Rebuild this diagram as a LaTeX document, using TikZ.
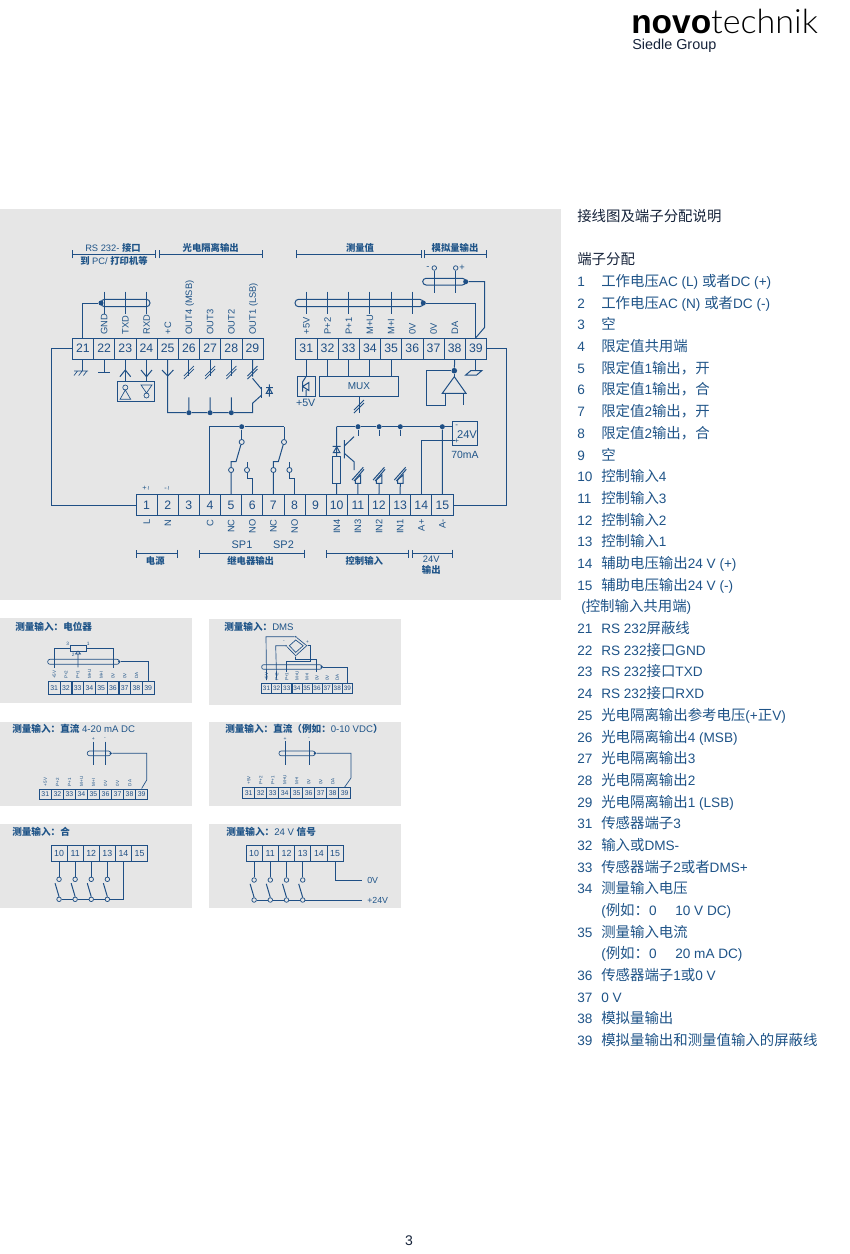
\documentclass[tikz,border=0pt]{standalone}
\usepackage{fontspec}
\setmainfont{Liberation Sans}
\newfontfamily\cjk{Noto Sans CJK SC}
\newfontfamily\cjkb[Scale=1.06]{Noto Sans CJK SC}
\newfontfamily\lightf{Lato Light}
\newcommand\Z[1]{{\cjk #1}}
\newcommand\ZB[1]{{\cjk\bfseries #1}}
\usetikzlibrary{arrows.meta}
\definecolor{wirec}{HTML}{1F4F85}
\definecolor{txtc}{HTML}{1F5488}
\definecolor{panelc}{HTML}{E6E6E6}
\definecolor{headc}{HTML}{16233A}
\newcommand\fsz[1]{\fontsize{#1pt}{#1pt}\selectfont}
\tikzset{
  wire/.style={draw=wirec,line width=.75pt},
  fine/.style={draw=wirec,line width=.5pt},
  term/.style={draw=wirec,line width=.6pt,inner sep=0pt,text=wirec,font=\fsz{9.2}},
  panel/.style={fill=panelc,draw=none},
  lab/.style={inner sep=0pt,text=txtc,font=\fsz{7}},
  rup/.style={inner sep=0pt,text=txtc,font=\fsz{7},rotate=90,anchor=west,text height=5pt,text depth=0pt},
  rdn/.style={inner sep=0pt,text=txtc,font=\fsz{7},rotate=90,anchor=east,text height=5pt,text depth=0pt},
  rti/.style={inner sep=0pt,text=txtc,font=\fsz{3.4},rotate=90,anchor=west,text height=2.5pt,text depth=0pt},
  dotn/.style={circle,fill=wirec,inner sep=0pt,minimum size=3.8pt},
  dots/.style={circle,fill=wirec,inner sep=0pt,minimum size=2pt},
  cnt/.style={circle,draw=wirec,line width=.6pt,fill=panelc,inner sep=0pt,minimum size=3.8pt},
  cnts/.style={circle,draw=wirec,line width=.55pt,fill=panelc,inner sep=0pt,minimum size=3.4pt},
  box/.style={draw=wirec,line width=.7pt,inner sep=0pt},
  brk/.style={wire,{Bar[width=6pt]}-{Bar[width=6pt]}},
  lst/.style={inner sep=0pt,anchor=base west,text=txtc,font=\fsz{10.2}},
  pics/dslash/.style={code={\draw[fine,line width=.55pt] (-5,4)--(5,-6) (-5,7)--(5,-3);}},
  pics/optin/.style={code={\draw[wire] (-2.7,0)--(2.7,0)--(2.7,-8.3)--(-2.7,-3.3)--cycle;
     \draw[wire] (-6,-3.3)--(5.3,-16) (-4,-2.3)--(6,-14);}},
}
\begin{document}
\begin{tikzpicture}[x=.75pt,y=-.75pt]
\useasboundingbox (0,0) rectangle (850,1254);
\fill[white] (0,0) rectangle (850,1254);
% panels
\fill[panel] (0,209) rectangle (561,600);
\fill[panel] (0,618) rectangle (191.5,703);
\fill[panel] (209,619) rectangle (400.5,705);
\fill[panel] (0,722) rectangle (191.5,806);
\fill[panel] (209,722) rectangle (400.5,806);
\fill[panel] (0,824) rectangle (191.5,908);
\fill[panel] (209,824) rectangle (400.5,908);
% logo
\node[inner sep=0pt,anchor=base west,text=black,font=\fsz{25.1}] (logo) at (631,33) {\textbf{novo}\resizebox{80pt}{\height}{\lightf technik}};
\node[inner sep=0pt,anchor=base west,text=headc,font=\fsz{10.8}] (group) at (632,49.5) {Siedle Group};
\node[inner sep=0pt,text=headc,font=\fsz{10.5}] (page) at (409,1241) {3};
% main terminal rows
\foreach \n [count=\i from 0] in {21,...,29}
  \node[term,minimum width=15.9pt,minimum height=15.75pt] (a\n) at ({72.3+21.2*(\i+.5)},348.5) {\n};
\foreach \n [count=\i from 0] in {31,...,39}
  \node[term,minimum width=15.9pt,minimum height=15.75pt] (a\n) at ({295.7+21.2*(\i+.5)},348.5) {\n};
\foreach \n [count=\i from 0] in {1,...,15}
  \node[term,minimum width=15.85pt,minimum height=16.2pt] (c\n) at ({136+21.13*(\i+.5)},505) {\n};
% terminal labels, top
\foreach \n/\t in {22/GND,23/TXD,24/RXD,25/+C,26/OUT4 (MSB),27/OUT3,28/OUT2,29/OUT1 (LSB),31/+5V,32/P+2,33/P+1,34/M+U,35/M+I,36/0V,37/0V,38/DA}
  \node[rup] (la\n) at ([yshift=2.2pt]a\n.north) {\t};
\foreach \n/\t in {1/L,2/N,4/C,5/NC,6/NO,7/NC,8/NO,10/IN4,11/IN3,12/IN2,13/IN1,14/A+,15/A-}
  \node[rdn] (lc\n) at ([yshift=-2.2pt]c\n.south) {\t};
\node[lab,font=\fsz{5.5}] (pm1) at (146.6,488.5) {+\,\rotatebox{90}{\textasciitilde}};
\node[lab,font=\fsz{5.5}] (pm2) at (167.7,488.5) {-\,\rotatebox{90}{\textasciitilde}};
% group brackets and titles
\draw[brk] (72.3,254.3) -- (156,254.3);
\draw[brk] (158.7,254.3) -- (262.7,254.3);
\draw[brk] (295.7,254.3) -- (421.7,254.3);
\draw[brk] (424,254.3) -- (486.7,254.3);
\node[lab] (g1) at (113,248) {RS 232- \ZB{接口}};
\node[lab] (g2) at (114,260.7) {\ZB{到} PC/ \ZB{打印机等}};
\node[lab] (g3) at (210.7,248) {\ZB{光电隔离输出}};
\node[lab] (g4) at (360,248) {\ZB{测量值}};
\node[lab] (g5) at (455,248) {\ZB{模拟量输出}};
\draw[brk] (136,553.7) -- (178.3,553.7);
\draw[brk] (199,553.7) -- (305,553.7);
\draw[brk] (326.3,553.7) -- (409.3,553.7);
\draw[brk] (412.3,553.7) -- (453.3,553.7);
\node[lab] (h1) at (155.3,560.5) {\ZB{电源}};
\node[lab] (h2) at (250.7,560.5) {\ZB{继电器输出}};
\node[lab] (h3) at (364.3,560.5) {\ZB{控制输入}};
\node[lab] (h4) at (431.3,559.5) {24V};
\node[lab] (h5) at (431.3,570) {\ZB{输出}};
\node[lab,font=\fsz{8.2}] (sp1) at (242,544.3) {SP1};
\node[lab,font=\fsz{8.2}] (sp2) at (283.5,544.3) {SP2};
% outer loops
\coordinate (l1) at (51.7,348.5);
\coordinate (r1) at (506,348.5);
\draw[wire] (a21.west) -- (l1) |- (c1.west);
\draw[wire] (a39.east) -- (r1) |- (c15.east);
% left shield
\node[dotn] (sh1) at (101,303) {};
\draw[wire,rounded corners=2.7pt] (101,299.3) rectangle (150,306.7);
\draw[wire] (a21.north) |- (sh1);
\foreach \n in {22,23,24}
  \draw[fine] (a\n.north |- 0,291.7) -- (a\n.north |- 0,314);
% below 21..24
\coordinate (gnd1) at (a21.south |- 0,371);
\draw[wire] (a21.south) -- (gnd1);
\draw[fine] (74,371)--(88,371) (74,375.5)--(77.5,371) (78.7,375.5)--(82.2,371) (83.4,375.5)--(86.9,371);
\coordinate (gnd2) at (a22.south |- 0,372.7);
\draw[wire] (a22.south) -- (gnd2);
\draw[wire] (98,372.7)--(110,372.7);
\node[box,minimum width=27.75pt,minimum height=15pt] (drv) at (135.8,391.7) {};
\draw[wire] (a23.south) -- (drv.north -| a23.south);
\draw[wire] (a24.south) -- (drv.north -| a24.south);
\draw[wire] (119.9,376.7)--(125.3,370)--(130.7,376.7);
\draw[wire] (141,370)--(146.5,376.7)--(152,370);
\draw[fine] (125.3,387.5) circle[radius=1.9pt] (125.3,390)--(120,399.3)--(130.7,399.3)--cycle;
\draw[fine] (141,385)--(152,385)--(146.5,393)--cycle (146.5,395.5) circle[radius=1.9pt];
% opto outputs
\draw[wire] (162,370)--(167.7,376)--(173.4,370);
\node[dotn] (j26) at (188.9,412.7) {};
\node[dotn] (j27) at (210.1,412.7) {};
\node[dotn] (j28) at (231.3,412.7) {};
\coordinate (e29) at (252.5,412.7);
\draw[wire] (a25.south) |- (j26) -- (j27) -- (j28) -- (e29) -- (252.5,403.3) -- (261.7,395);
\foreach \n in {26,27,28}{
  \draw[wire] (a\n.south) -- (a\n.south |- 0,376);
  \draw[wire] (j\n) -- (a\n.south |- 0,397.3);
  \pic at (a\n.south |- 0,372) {dslash};
}
\draw[wire] (a29.south) -- (252.5,376.7);
\pic at (252.5,372) {dslash};
\draw[wire] (252.5,378.3) -- (261.7,389.3);
\draw[wire] (261.7,386.7) -- (261.7,398.3);
\draw[wire] (269.3,384.3)--(269.3,396.7) (266,387.7)--(272.8,387.7) (266.3,393.3)--(272.3,393.3)--(269.3,388)--cycle;
% right shields
\draw[wire,rounded corners=2.7pt] (295,299.3) rectangle (423.3,306.7);
\node[dotn] (sh2) at (423.3,303) {};
\draw[wire] (a39.north) |- (sh2);
\foreach \n in {31,...,36}
  \draw[wire] (a\n.north |- 0,291.7) -- (a\n.north |- 0,314);
\draw[wire,rounded corners=2.5pt] (422.7,278.3) rectangle (465.7,285);
\node[dotn] (sh3) at (465.7,281.7) {};
\coordinate (s3a) at (484.7,281.7);
\coordinate (s3b) at (484.7,327.3);
\draw[wire] (sh3) -- (s3a) -- (s3b) -- (a39.north);
\node[cnts] (ao1) at (434.3,268) {};
\node[cnts] (ao2) at (455.7,268) {};
\draw[wire] (ao1) -- (434.3,292.7);
\draw[wire] (ao2) -- (455.7,292.7);
\node[lab,font=\fsz{7}] (aom) at (428,268) {-};
\node[lab,font=\fsz{7}] (aop) at (462,268) {+};
% below 31..39
\node[box,minimum width=13.8pt,minimum height=14.5pt] (d5v) at (306.5,386.3) {};
\draw[wire] (a31.south) -- (d5v.north -| a31.south);
\draw[wire] (306,376.7)--(302.7,381.7) (302.7,381.7)--(302.7,391.5) (302.7,386.5)--(308.8,382.5)--(308.8,390.5)--cycle (306,390)--(306,396);
\node[lab,font=\fsz{8}] (l5v) at (305.7,403) {+5V};
\node[box,minimum width=59.5pt,minimum height=14.5pt,text=txtc,font=\fsz{7.5}] (mux) at (359,386.3) {MUX};
\foreach \n in {32,33,34,35}
  \draw[wire] (a\n.south) -- (mux.north -| a\n.south);
\coordinate (muxo) at (359,413);
\draw[wire] (mux.south) -- (muxo);
\pic at (359,406) {dslash};
\node[dotn,minimum size=4.2pt] (da) at (454.3,370.7) {};
\draw[wire] (a38.south) -- (da);
\draw[wire] (da) -- (454.3,376.7);
\draw[wire] (454.3,376.7)--(442.3,393.3)--(466,393.3)--cycle;
\draw[wire] (da) -- (426.7,370.7) -- (426.7,405) -- (445.7,405) -- (445.7,393.3);
\draw[wire] (463.3,393.3)--(463.3,405);
\coordinate (g39) at (a39.south |- 0,370);
\draw[wire] (a39.south) -- (g39);
\draw[wire] (465.7,375)--(476.7,375)--(481.7,370.7)--(470.7,370.7)--cycle;
% relays
\node[dotn] (jr) at (241.7,426.7) {};
\coordinate (jre) at (284,426.7);
\draw[wire] (c4.north) |- (jr) -- (jre);
\node[cnt] (k1) at (241.7,442) {};
\node[cnt] (k2) at (231.1,470) {};
\node[cnt] (k3) at (247,470) {};
\node[cnt] (k4) at (284,442) {};
\node[cnt] (k5) at (273.4,470) {};
\node[cnt] (k6) at (289.4,470) {};
\draw[wire] (jr) -- (k1);
\draw[wire] (jre) -- (k4);
\draw[wire] (k1) -- (236,461.7) -- (231.1,461.7) -- (k2);
\draw[wire] (k4) -- (278.3,461.7) -- (273.4,461.7) -- (k5);
\draw[wire] (c5.north) -- (k2);
\draw[wire] (c7.north) -- (k5);
\draw[wire] (k3) -- (247,461.7);
\draw[wire] (k6) -- (289.4,461.7);
\draw[wire] (k3) -- (247,478.3) -- (c6.north |- 0,478.3) -- (c6.north);
\draw[wire] (k6) -- (289.4,478.3) -- (c8.north |- 0,478.3) -- (c8.north);
% control inputs
\node[dotn] (i11) at (358,426.7) {};
\node[dotn] (i12) at (379.1,426.7) {};
\node[dotn] (i13) at (400.3,426.7) {};
\node[dotn] (i15) at (442.3,426.7) {};
\node[box,minimum width=18.4pt,minimum height=18.2pt] (ps) at (465,433.8) {};
\coordinate (ptop) at (c10.north |- 0,426.7);
\draw[wire] (ptop) -- (i11) -- (i12) -- (i13) -- (i15) -- (ps.west |- i15);
\draw[wire] (c15.north) -- (i15);
\node[box,minimum width=6pt,minimum height=20pt] (rs) at (336.7,470) {};
\draw[wire] (c10.north) -- (rs.south);
\draw[wire] (rs.north) -- (ptop);
\draw[wire] (332.7,446.3)--(340.7,446.3) (333.3,452.7)--(340,452.7)--(336.7,446.7)--cycle;
\draw[wire] (344.3,440)--(344.3,458.3) (344.3,446)--(354,436.7) (344.3,453.3)--(354,461.7)--(354,470);
\foreach \n/\x in {11/358,12/379.1,13/400.3}{
  \draw[wire] (i\n) -- (\x,436);
  \draw[wire] (c\n.north) -- (\x,483.3);
  \pic at (\x,483.3) {optin};
}
\coordinate (pp) at (455,440.7);
\draw[wire] (c14.north) |- (pp);
\node[lab,font=\fsz{8.4}] (l24) at (467,434.3) {24V};
\node[lab,font=\fsz{6}] (lm) at (456.7,426.7) {-};
\node[lab,font=\fsz{6}] (lp) at (456.7,440.7) {+};
\node[lab,font=\fsz{7.8}] (l70) at (465,455) {70mA};
% ---- sub diagrams
\newcommand\tinylabels[1]{%
  \foreach \n/\t in {31/+5V,32/P+2,33/P+1,34/M+U,35/M+I,36/0V,37/0V,38/DA}
    \node[rti] (#1l\n) at ([yshift=1.6pt]#1\n.north) {\t};}
% potentiometer
\node[lab,font=\fsz{7.2}] (tp1) at (15,627) [anchor=west] {\ZB{测量输入：电位器}};
\foreach \n [count=\i from 0] in {31,...,39}
  \node[term,font=\fsz{5.2},line width=.45pt,minimum width=8.8pt,minimum height=9.2pt] (p\n) at ({48.3+11.75*(\i+.5)},687.8) {\n};
\tinylabels{p}
\draw[fine,rounded corners=1.7pt] (47.7,659.3) rectangle (119.3,664.3);
\node[dots] (ps1) at (119.3,661.7) {};
\draw[fine] (ps1) -| (p39.north);
\node[box,line width=.5pt,minimum width=11.5pt,minimum height=4.5pt] (pot) at (78.3,648) {};
\draw[fine] (pot.west) -| (p31.north |- 0,668.3);
\draw[fine] (pot.east) -| (p36.north |- 0,668.3);
\draw[fine] (78,654)--(78,667.3) (75.5,654)--(80.5,654)--(78,651)--cycle;
\foreach \a/\b/\c/\d in {q3/3/67.7/644,q1/1/88.3/644,q2/2/73.3/655}
  \node[lab,font=\fsz{3.6}] (\a) at (\c,\d) {\b};
% DMS
\node[lab,font=\fsz{7.2}] (tp2) at (224,627) [anchor=west] {\ZB{测量输入：}DMS};
\foreach \n [count=\i from 0] in {31,...,39}
  \node[term,font=\fsz{4.8},line width=.45pt,minimum width=7.6pt,minimum height=7.6pt] (m\n) at ({261.5+10.1*(\i+.5)},688.5) {\n};
\tinylabels{m}
\draw[fine,rounded corners=1.5pt] (261.7,664.7) rectangle (321.7,669.3);
\node[dots] (ms1) at (321.7,667) {};
\draw[fine] (ms1) -| (m39.north);
\node[dots,minimum size=1.2pt] (bt) at (295.7,636.7) {};
\node[dots,minimum size=1.2pt] (bb) at (295.7,655.7) {};
\node[dots,minimum size=1.2pt] (bl) at (286,645.7) {};
\node[dots,minimum size=1.2pt] (br) at (306.7,645.7) {};
\draw[fine] (bt)--(br)--(bb)--(bl)--cycle;
\draw[fine] (295.7,640)--(303.2,645.7)--(295.7,652.4)--(289.4,645.7)--cycle;
\draw[fine] (bt) -- (266,636.7) -- (m31.north |- 0,680);
\draw[fine] (bl) -- (275.7,645.7) -- (m32.north |- 0,680);
\draw[fine] (br) -- (310,645.7) -- (310,661.7) -- (286.7,661.7) -- (286.7,671.7);
\draw[fine] (bb) -- (295.7,659.3) -- (316.7,659.3) -- (316.7,671.7);
\node[lab,font=\fsz{3.6}] (bm) at (284,641.7) {-};
\node[lab,font=\fsz{3.6}] (bp) at (307.5,641.7) {+};
% 4-20 mA
\node[lab,font=\fsz{7.2}] (tp3) at (12,729) [anchor=west] {\ZB{测量输入：直流} 4-20 mA DC};
\foreach \n [count=\i from 0] in {31,...,39}
  \node[term,font=\fsz{5.2},line width=.45pt,minimum width=9pt,minimum height=7.8pt] (i\n) at ({39.3+12.04*(\i+.5)},794) {\n};
\tinylabels{i}
\draw[fine,rounded corners=1.6pt] (87.3,751) rectangle (110.7,755.7);
\node[dots] (is1) at (110.7,753.3) {};
\draw[fine] (is1) -- (146.7,753.3) -- (146.7,780) -- (i39.north);
\draw[fine] (93.3,741.7)--(93.3,765) (105,741.7)--(105,765);
\node[lab,font=\fsz{3.8}] (ip) at (93.3,739) {+};
\node[lab,font=\fsz{3.8}] (im) at (105,739) {-};
% 0-10 V
\node[lab,font=\fsz{7.2}] (tp4) at (225,729) [anchor=west] {\ZB{测量输入：直流（例如：}0-10 VDC\ZB{）}};
\foreach \n [count=\i from 0] in {31,...,39}
  \node[term,font=\fsz{5.2},line width=.45pt,minimum width=9pt,minimum height=8.6pt] (v\n) at ({242.7+12*(\i+.5)},793) {\n};
\tinylabels{v}
\draw[fine,rounded corners=1.6pt] (279,751) rectangle (315,755.7);
\node[dots] (vs1) at (315,753.3) {};
\draw[fine] (vs1) -- (351,753.3) -- (351,778) -- (v39.north);
\draw[fine] (285,741)--(285,765) (309,741)--(309,765);
\node[lab,font=\fsz{3.8}] (vp) at (285,739) {+};
\node[lab,font=\fsz{3.8}] (vm) at (309,739) {-};
% closer
\node[lab,font=\fsz{7.2}] (tp5) at (12,832) [anchor=west] {\ZB{测量输入：合}};
\foreach \n [count=\i from 0] in {10,...,15}
  \node[term,font=\fsz{6.6},line width=.55pt,minimum width=12.08pt,minimum height=12.5pt] (w\n) at ({51+16.1*(\i+.5)},853.3) {\n};
\foreach \n in {10,...,13}{
  \node[cnts] (wa\n) at (w\n.south |- 0,879.3) {};
  \node[cnts] (wb\n) at (w\n.south |- 0,899.3) {};
  \draw[wire] (w\n.south) -- (wa\n);
  \draw[wire] (wb\n.north) -- ++(-4,-13.5);
}
\coordinate (wend) at (w14.south |- 0,899.3);
\draw[wire] (wb10) -- (wb11) -- (wb12) -- (wb13) -- (wend) -- (w14.south);
% 24 V signal
\node[lab,font=\fsz{7.2}] (tp6) at (226,832) [anchor=west] {\ZB{测量输入：}24 V \ZB{信号}};
\foreach \n [count=\i from 0] in {10,...,15}
  \node[term,font=\fsz{6.6},line width=.55pt,minimum width=12.15pt,minimum height=12.5pt] (u\n) at ({246+16.2*(\i+.5)},853.3) {\n};
\foreach \n in {10,...,13}{
  \node[cnts] (ua\n) at (u\n.south |- 0,880) {};
  \node[cnts] (ub\n) at (u\n.south |- 0,900) {};
  \draw[wire] (u\n.south) -- (ua\n);
  \draw[wire] (ub\n.north) -- ++(-4,-13.5);
}
\node[lab,anchor=west,font=\fsz{6.6}] (u0v) at (367,880) {0V};
\node[lab,anchor=west,font=\fsz{6.6}] (u24) at (367,900) {+24V};
\coordinate (u0e) at (362,880);
\coordinate (u24e) at (362,900);
\draw[wire] (u15.south) |- (u0e);
\draw[wire] (ub10) -- (ub11) -- (ub12) -- (ub13) -- (u24e);
% ---- right hand text
\renewcommand\Z[1]{{\cjkb #1}}
\node[lst,text=headc] (t1) at (577,221) {\Z{接线图及端子分配说明}};
\node[lst,text=headc] (t2) at (577,264.5) {\Z{端子分配}};
\foreach \num/\txt [count=\i from 0] in {
 1/{\Z{工作电压}AC (L) \Z{或者}DC (+)},
 2/{\Z{工作电压}AC (N) \Z{或者}DC (-)},
 3/{\Z{空}},
 4/{\Z{限定值共用端}},
 5/{\Z{限定值}1\Z{输出，开}},
 6/{\Z{限定值}1\Z{输出，合}},
 7/{\Z{限定值}2\Z{输出，开}},
 8/{\Z{限定值}2\Z{输出，合}},
 9/{\Z{空}},
 10/{\Z{控制输入}4},
 11/{\Z{控制输入}3},
 12/{\Z{控制输入}2},
 13/{\Z{控制输入}1},
 14/{\Z{辅助电压输出}24 V (+)},
 15/{\Z{辅助电压输出}24 V (-)},
 /{\hspace*{-15pt}(\Z{控制输入共用端})},
 21/{RS 232\Z{屏蔽线}},
 22/{RS 232\Z{接口}GND},
 23/{RS 232\Z{接口}TXD},
 24/{RS 232\Z{接口}RXD},
 25/{\Z{光电隔离输出参考电压}(+\Z{正}V)},
 26/{\Z{光电隔离输出}4 (MSB)},
 27/{\Z{光电隔离输出}3},
 28/{\Z{光电隔离输出}2},
 29/{\Z{光电隔离输出}1 (LSB)},
 31/{\Z{传感器端子}3},
 32/{\Z{输入或}DMS-},
 33/{\Z{传感器端子}2\Z{或者}DMS+},
 34/{\Z{测量输入电压}},
 /{(\Z{例如：}0\hspace{14pt}10 V DC)},
 35/{\Z{测量输入电流}},
 /{(\Z{例如：}0\hspace{14pt}20 mA DC)},
 36/{\Z{传感器端子}1\Z{或}0 V},
 37/{0 V},
 38/{\Z{模拟量输出}},
 39/{\Z{模拟量输出和测量值输入的屏蔽线}}}
{
  \node[lst] (nn\i) at (577,{286.5+21.69*\i}) {\num};
  \node[lst] (tt\i) at (601,{286.5+21.69*\i}) {\txt};
}
\end{tikzpicture}
\end{document}
